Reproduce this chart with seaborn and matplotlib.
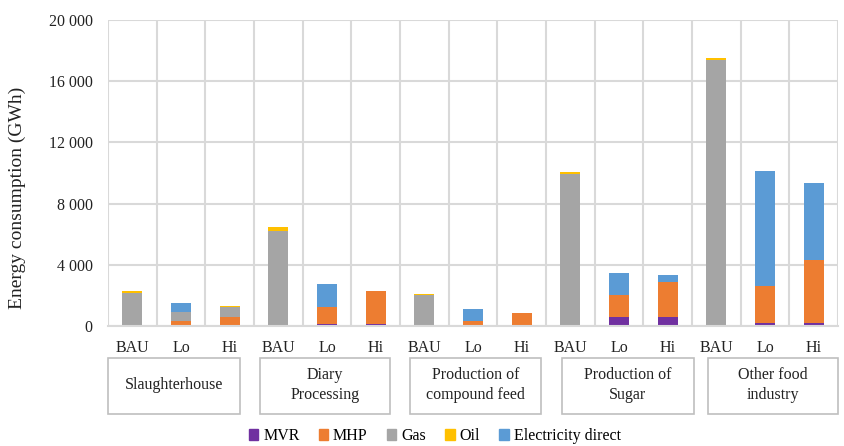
import matplotlib
matplotlib.use("Agg")
import matplotlib.pyplot as plt
from matplotlib.patches import Rectangle
from matplotlib.ticker import FuncFormatter, MultipleLocator
import numpy as np
import pandas as pd
import seaborn as sns

# data (GWh)
industries = ["Slaughterhouse", "Diary\nProcessing", "Production of\ncompound feed",
              "Production of\nSugar", "Other food\nindustry"]
scenarios = ["BAU", "Lo", "Hi"]
series = ["MVR", "MHP", "Gas", "Oil", "Electricity direct"]
colors = ["#7030A0", "#ED7D31", "#A5A5A5", "#FFC000", "#5B9BD5"]

mvr = [0, 20, 0,    0, 130, 130,   0, 0, 0,      0, 590, 590,     0, 215, 215]
mhp = [0, 280, 610, 0, 1110, 2160, 0, 330, 870,  0, 1440, 2310,   0, 2410, 4105]
gas = [2140, 590, 610, 6200, 0, 0, 2030, 0, 0,   9940, 0, 0,      17400, 0, 0]
oil = [150, 0, 65,  300, 0, 0,     60, 0, 0,     110, 0, 0,       140, 0, 0]
elec = [0, 615, 0,  0, 1490, 0,    0, 760, 0,    0, 1415, 435,    0, 7535, 5015]

values = [mvr, mhp, gas, oil, elec]
slots = [f"{i}|{s}" for i in range(len(industries)) for s in scenarios]

plt.rcParams["font.family"] = ["Liberation Serif", "DejaVu Serif"]
fig = plt.figure(figsize=(8.44, 4.46), dpi=100)
W, H = 844, 446
ax = fig.add_axes([108 / W, 1 - 326 / H, 730 / W, 306 / H])

bottom = np.zeros(len(slots))
for name, vals, col in zip(series, values, colors):
    df = pd.DataFrame({"slot": slots, "value": vals})
    sns.barplot(data=df, x="slot", y="value", order=slots, color=col,
                saturation=1, width=0.41, bottom=bottom, ax=ax, label=name,
                linewidth=0, errorbar=None)
    bottom = bottom + np.array(vals)

ax.set_xlim(-0.5, len(slots) - 0.5)
ax.set_ylim(0, 20000)
ax.yaxis.set_major_locator(MultipleLocator(4000))
ax.yaxis.set_major_formatter(FuncFormatter(lambda v, p: f"{v:,.0f}".replace(",", " ")))
ax.set_xticks(range(len(slots)))
ax.set_xticklabels(scenarios * len(industries))
ax.set_xticks(np.arange(-0.5, len(slots), 1), minor=True)
ax.grid(axis="y", which="major", color="#D9D9D9", linewidth=1.5)
ax.grid(axis="x", which="minor", color="#D9D9D9", linewidth=1.5)
ax.set_axisbelow(True)
for s in ["top", "right", "left"]:
    ax.spines[s].set_visible(False)
ax.spines["bottom"].set_color("#D9D9D9")
ax.spines["bottom"].set_linewidth(1.5)
ax.tick_params(axis="both", which="both", length=0, labelsize=11.5, colors="#222222")
ax.tick_params(axis="x", pad=10)
ax.tick_params(axis="y", pad=11)
ax.set_xlabel("")
ax.set_ylabel("Energy consumption (GWh)", fontsize=14, color="#222222")
ax.yaxis.set_label_coords(-0.112, 0.42)

# industry boxes under the scenario labels
boxes = [(108, 240), (260, 390), (410, 541), (562, 694), (708, 838)]
for (x0, x1), name in zip(boxes, industries):
    fig.patches.append(Rectangle((x0 / W, 1 - 414 / H), (x1 - x0) / W, 56 / H,
                                 transform=fig.transFigure, fill=False,
                                 edgecolor="#BFBFBF", linewidth=1.2))
    fig.text((x0 + x1) / 2 / W, 1 - 385 / H, name, ha="center", va="center",
             fontsize=11.5, color="#222222", linespacing=1.3)

handles = [Rectangle((0, 0), 1, 1, color=c) for c in colors]
fig.legend(handles, series, loc="center", bbox_to_anchor=(0.515, 0.022), ncol=5,
           frameon=False, fontsize=11.5, handlelength=0.6, handleheight=0.6,
           handletextpad=0.3, columnspacing=1.2)
if ax.get_legend():
    ax.get_legend().remove()

fig.savefig("out.png", dpi=100)
